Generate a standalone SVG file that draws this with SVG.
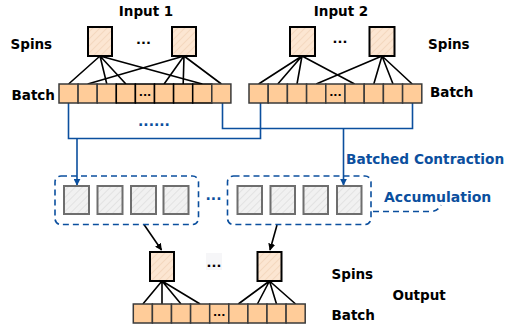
<svg xmlns="http://www.w3.org/2000/svg" width="507" height="329" viewBox="0 0 507 329">
  <defs>
    <pattern id="hatchPeach" patternUnits="userSpaceOnUse" width="5" height="5" patternTransform="rotate(45)">
      <rect width="5" height="5" fill="#fce6d2"/>
      <line x1="0" y1="0" x2="0" y2="5" stroke="#f0cfb2" stroke-width="1.2"/>
    </pattern>
    <pattern id="hatchGray" patternUnits="userSpaceOnUse" width="5" height="5" patternTransform="rotate(45)">
      <rect width="5" height="5" fill="#f1f1f1"/>
      <line x1="0" y1="0" x2="0" y2="5" stroke="#d9d9d9" stroke-width="1.2"/>
    </pattern>
    <marker id="arrowBlue" viewBox="0 0 10 10" refX="9" refY="5" markerWidth="7" markerHeight="7" markerUnits="userSpaceOnUse" orient="auto">
      <path d="M0,0 L10,5 L0,10 Z" fill="#0b4f9e"/>
    </marker>
    <marker id="arrowBlack" viewBox="0 0 10 10" refX="9" refY="5" markerWidth="7" markerHeight="7" markerUnits="userSpaceOnUse" orient="auto">
      <path d="M0,0 L10,5 L0,10 Z" fill="#000"/>
    </marker>
  </defs>
  <style>
    text { font-family: "DejaVu Sans", Verdana, sans-serif; font-weight: bold; }
    .lbl { font-size: 13.5px; fill: #000; }
    .blue { font-size: 14px; fill: #0b4f9e; }
    .dots { font-size: 13px; fill: #000; text-anchor: middle; }
    .cdots { font-size: 11px; fill: #000; text-anchor: middle; }
    .spin { fill: url(#hatchPeach); stroke: #000; stroke-width: 2; }
    .cell { fill: #ffcc99; stroke: #3a3a3a; stroke-width: 1.5; }
    .cellk { fill: #ffcc99; stroke: #000; stroke-width: 1.5; }
    .acc { fill: url(#hatchGray); stroke: #6e6e6e; stroke-width: 2; }
    .group { fill: none; stroke: #0b4f9e; stroke-width: 1.6; stroke-dasharray: 6 4; }
    .wire { fill: none; stroke: #000; stroke-width: 1.6; }
    .flow { fill: none; stroke: #0b4f9e; stroke-width: 1.6; }
  </style>

  <!-- side labels -->
  <text class="lbl" x="146" y="15.5" text-anchor="middle">Input 1</text>
  <text class="lbl" x="341" y="15.5" text-anchor="middle">Input 2</text>
  <text class="lbl" x="10.5" y="48.5">Spins</text>
  <text class="lbl" x="11.5" y="100">Batch</text>
  <text class="lbl" x="428" y="48.5">Spins</text>
  <text class="lbl" x="430" y="97">Batch</text>
  <text class="lbl" x="331.5" y="278.5">Spins</text>
  <text class="lbl" x="392.5" y="300">Output</text>
  <text class="lbl" x="331.5" y="320">Batch</text>
  <text class="blue" x="346" y="164" style="font-size:13.7px">Batched Contraction</text>
  <text class="blue" x="384" y="202">Accumulation</text>

  <!-- wiring between spin tensors and batch cells -->
  <g id="connectors">
    <g class="wire">
      <path d="M100,56 L68.6,84 M100,56 L106.8,84 M100,56 L125.9,84 M100,56 L202.3,84"/>
      <path d="M184,56 L87.7,84 M184,56 L164.1,84 M184,56 L183.2,84 M184,56 L221.4,84"/>
      <path d="M302,56 L258.6,84 M302,56 L277.8,84 M302,56 L297,84 M302,56 L354.6,84"/>
      <path d="M382,56 L316.2,84 M382,56 L373.8,84 M382,56 L393,84 M382,56 L412.2,84"/>
      <path d="M162,281 L142.9,304 M162,281 L162,304 M162,281 L181,304 M162,281 L200.1,304"/>
      <path d="M269.5,281 L238.3,304 M269.5,281 L257.4,304 M269.5,281 L276.5,304 M269.5,281 L295.6,304"/>
    </g>
    <path class="flow" d="M68.5,103 V138.5 H260.5 V103"/>
    <path class="flow" d="M222.5,103 V128.5 H412.5 V103"/>
    <path class="flow" d="M77,138.5 V185" marker-end="url(#arrowBlue)"/>
    <path class="flow" d="M343.5,128.5 V185" marker-end="url(#arrowBlue)"/>
    <path class="wire" d="M144,224.5 L161.5,250" marker-end="url(#arrowBlack)"/>
    <path class="wire" d="M277,225 L270,250" marker-end="url(#arrowBlack)"/>
    <path class="group" d="M373,211.5 H430 Q438,211.5 441,205"/>
  </g>

  <!-- Input 1 -->
  <g id="input1">
    <rect class="spin" x="88" y="27" width="24" height="29"/>
    <rect class="spin" x="172" y="27" width="24" height="29"/>
    <text class="dots" x="143.5" y="44">...</text>
    <rect class="cell" x="59" y="84" width="19.1" height="19"/>
    <rect class="cell" x="78.1" y="84" width="19.1" height="19"/>
    <rect class="cell" x="97.2" y="84" width="19.1" height="19"/>
    <rect class="cellk" x="116.3" y="84" width="19.1" height="19"/>
    <rect class="cellk" x="135.4" y="84" width="19.1" height="19"/>
    <rect class="cellk" x="154.5" y="84" width="19.1" height="19"/>
    <rect class="cellk" x="173.6" y="84" width="19.1" height="19"/>
    <rect class="cellk" x="192.7" y="84" width="19.1" height="19"/>
    <rect class="cell" x="211.8" y="84" width="19.1" height="19"/>
    <text class="cdots" x="145" y="96">...</text>
  </g>

  <!-- Input 2 -->
  <g id="input2">
    <rect class="spin" x="290" y="27" width="25" height="29"/>
    <rect class="spin" x="369.5" y="27" width="25" height="29"/>
    <text class="dots" x="340" y="42.5">...</text>
    <rect class="cell" x="249" y="84" width="19.2" height="19"/>
    <rect class="cell" x="268.2" y="84" width="19.2" height="19"/>
    <rect class="cell" x="287.4" y="84" width="19.2" height="19"/>
    <rect class="cell" x="306.6" y="84" width="19.2" height="19"/>
    <rect class="cell" x="325.8" y="84" width="19.2" height="19"/>
    <rect class="cell" x="345" y="84" width="19.2" height="19"/>
    <rect class="cell" x="364.2" y="84" width="19.2" height="19"/>
    <rect class="cell" x="383.4" y="84" width="19.2" height="19"/>
    <rect class="cell" x="402.6" y="84" width="19.2" height="19"/>
    <text class="cdots" x="335.4" y="96">...</text>
  </g>

  <text class="blue" x="154" y="125.5" text-anchor="middle">......</text>

  <!-- accumulation buffers -->
  <g id="accumulator1">
    <rect class="group" x="55" y="176" width="143.5" height="48.5" rx="6"/>
    <rect class="acc" x="64" y="186" width="25" height="28"/>
    <rect class="acc" x="97.5" y="186" width="25" height="28"/>
    <rect class="acc" x="131" y="186" width="25" height="28"/>
    <rect class="acc" x="163.5" y="186" width="25" height="28"/>
  </g>
  <text class="blue" x="213.5" y="200" text-anchor="middle">...</text>
  <g id="accumulator2">
    <rect class="group" x="227.5" y="176" width="143.5" height="48.5" rx="6"/>
    <rect class="acc" x="237.5" y="186" width="24.5" height="28"/>
    <rect class="acc" x="270.5" y="186" width="24.5" height="28"/>
    <rect class="acc" x="303.5" y="186" width="24.5" height="28"/>
    <rect class="acc" x="337" y="186" width="24.5" height="28"/>
  </g>

  <!-- Output -->
  <g id="output">
    <rect class="spin" x="150" y="252" width="24" height="29"/>
    <rect class="spin" x="257.5" y="252" width="24" height="29"/>
    <rect x="206" y="253" width="16" height="17" fill="#f6f6f8"/>
    <text class="dots" x="214" y="266.5">...</text>
    <rect class="cell" x="133.3" y="304" width="19.1" height="19"/>
    <rect class="cell" x="152.4" y="304" width="19.1" height="19"/>
    <rect class="cell" x="171.5" y="304" width="19.1" height="19"/>
    <rect class="cell" x="190.6" y="304" width="19.1" height="19"/>
    <rect class="cell" x="209.7" y="304" width="19.1" height="19"/>
    <rect class="cell" x="228.8" y="304" width="19.1" height="19"/>
    <rect class="cell" x="247.9" y="304" width="19.1" height="19"/>
    <rect class="cell" x="267" y="304" width="19.1" height="19"/>
    <rect class="cell" x="286.1" y="304" width="19.1" height="19"/>
    <text class="cdots" x="219.2" y="316">...</text>
  </g>
</svg>
